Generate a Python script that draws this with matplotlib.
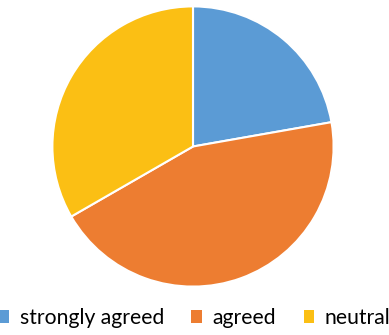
import matplotlib.pyplot as plt
from matplotlib.patches import Patch

# Survey responses
labels = ['strongly agreed', 'agreed', 'neutral']
counts = [2, 4, 3]
colors = ['#5B9BD5', '#ED7D31', '#FBBF14']

fig = plt.figure(figsize=(3.89, 3.35), dpi=100)
ax = fig.add_axes([51 / 389, 47 / 335, 284 / 389, 283 / 335])
ax.pie(counts, colors=colors, startangle=90, counterclock=False,
       wedgeprops=dict(edgecolor='white', linewidth=1.5))
ax.set_xlim(-1.01, 1.01)
ax.set_ylim(-1.01, 1.01)
ax.set_aspect('auto')

handles = [Patch(facecolor=c, edgecolor='none') for c in colors]
fig.legend(handles, labels, loc='center', bbox_to_anchor=(0.5, 17 / 335),
           ncol=3, frameon=False, handlelength=0.5, handleheight=0.5,
           handletextpad=0.5, columnspacing=1.3, borderpad=0, borderaxespad=0,
           prop={'family': 'Lato', 'size': 15.2})

fig.savefig('out.png', dpi=100)
